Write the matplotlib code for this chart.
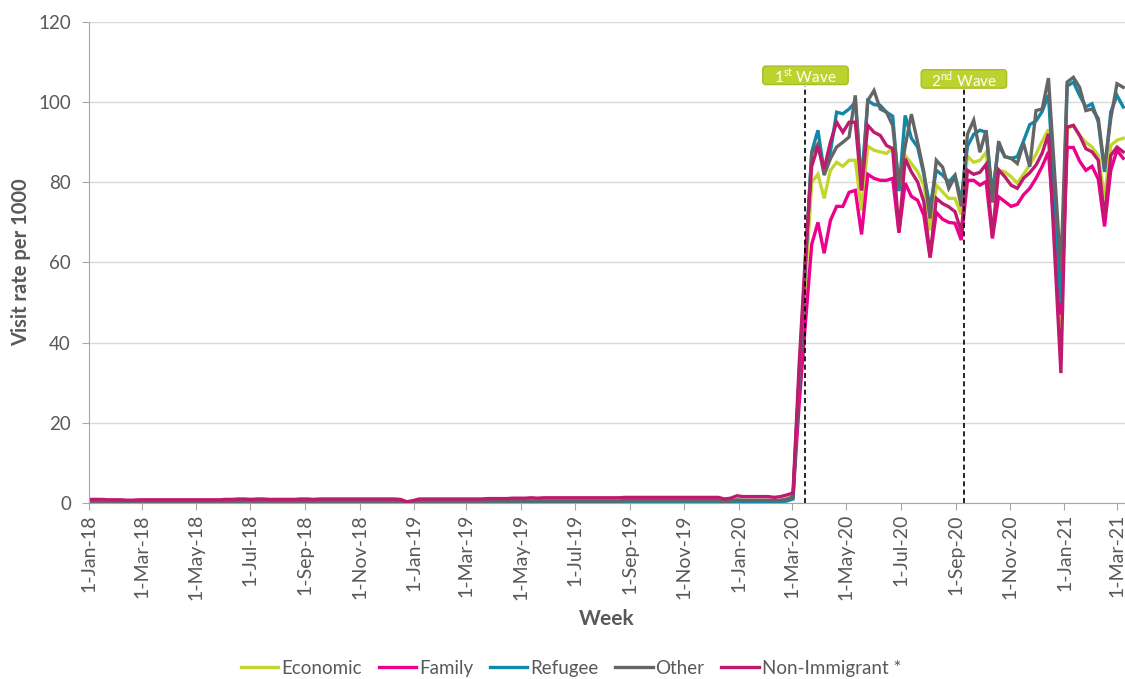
import matplotlib.pyplot as plt
import matplotlib.dates as mdates
from matplotlib.patches import FancyBboxPatch
import pandas as pd

plt.rcParams['font.family'] = ['Lato', 'DejaVu Sans']
plt.rcParams['mathtext.fontset'] = 'custom'
plt.rcParams['mathtext.rm'] = 'Lato'

# Weekly visit rate per 1000, weeks starting 1-Jan-18 (pre-pandemic part)
economic_pre = [
    0.2, 0.2, 0.2, 0.2, 0.2, 0.2, 0.2, 0.2, 0.2, 0.2,
    0.2, 0.2, 0.2, 0.2, 0.2, 0.2, 0.2, 0.2, 0.2, 0.2,
    0.2, 0.2, 0.2, 0.2, 0.3, 0.3, 0.2, 0.2, 0.2, 0.2,
    0.2, 0.2, 0.2, 0.2, 0.2, 0.2, 0.2, 0.2, 0.2, 0.2,
    0.2, 0.2, 0.2, 0.2, 0.2, 0.2, 0.2, 0.2, 0.2, 0.2,
    0.2, 0.1, 0.1, 0.2, 0.2, 0.2, 0.2, 0.2, 0.2, 0.2,
    0.2, 0.2, 0.2, 0.2, 0.2, 0.2, 0.2, 0.3, 0.3, 0.3,
    0.3, 0.3, 0.3, 0.3, 0.3, 0.3, 0.3, 0.3, 0.3, 0.3,
    0.3, 0.3, 0.3, 0.3, 0.3, 0.3, 0.3, 0.3, 0.3, 0.3,
    0.3, 0.3, 0.3, 0.3, 0.3, 0.3, 0.3, 0.3, 0.3, 0.3,
    0.3, 0.3, 0.2, 0.3, 0.5, 0.4, 0.4, 0.4, 0.4, 0.4,
    0.4, 0.4, 0.6]
family_pre = [
    0.3, 0.3, 0.3, 0.3, 0.3, 0.3, 0.3, 0.3, 0.3, 0.3,
    0.3, 0.3, 0.3, 0.3, 0.3, 0.3, 0.3, 0.3, 0.3, 0.3,
    0.3, 0.3, 0.3, 0.3, 0.4, 0.4, 0.3, 0.3, 0.3, 0.3,
    0.3, 0.3, 0.3, 0.3, 0.3, 0.3, 0.3, 0.3, 0.3, 0.3,
    0.3, 0.3, 0.3, 0.3, 0.3, 0.3, 0.3, 0.3, 0.3, 0.3,
    0.3, 0.1, 0.2, 0.3, 0.3, 0.3, 0.3, 0.3, 0.3, 0.3,
    0.3, 0.3, 0.3, 0.3, 0.3, 0.3, 0.3, 0.4, 0.4, 0.4,
    0.4, 0.4, 0.4, 0.4, 0.4, 0.4, 0.4, 0.4, 0.4, 0.4,
    0.4, 0.4, 0.4, 0.4, 0.4, 0.4, 0.4, 0.4, 0.4, 0.4,
    0.4, 0.4, 0.4, 0.4, 0.4, 0.4, 0.4, 0.4, 0.4, 0.4,
    0.4, 0.4, 0.3, 0.4, 0.6, 0.5, 0.5, 0.5, 0.5, 0.5,
    0.5, 0.5, 0.7]
refugee_pre = [
    0.1, 0.1, 0.1, 0.1, 0.1, 0.1, 0.1, 0.1, 0.1, 0.1,
    0.1, 0.1, 0.1, 0.1, 0.1, 0.1, 0.1, 0.1, 0.1, 0.1,
    0.1, 0.1, 0.1, 0.1, 0.2, 0.2, 0.1, 0.1, 0.1, 0.1,
    0.1, 0.1, 0.1, 0.1, 0.1, 0.1, 0.1, 0.1, 0.1, 0.1,
    0.1, 0.1, 0.1, 0.1, 0.1, 0.1, 0.1, 0.1, 0.1, 0.1,
    0.1, 0.1, 0.1, 0.1, 0.1, 0.1, 0.1, 0.1, 0.1, 0.1,
    0.1, 0.1, 0.1, 0.1, 0.1, 0.1, 0.1, 0.2, 0.2, 0.2,
    0.2, 0.2, 0.2, 0.2, 0.2, 0.2, 0.2, 0.2, 0.2, 0.2,
    0.2, 0.2, 0.2, 0.2, 0.2, 0.2, 0.2, 0.2, 0.2, 0.2,
    0.2, 0.2, 0.2, 0.2, 0.2, 0.2, 0.2, 0.2, 0.2, 0.2,
    0.2, 0.2, 0.2, 0.2, 0.4, 0.3, 0.3, 0.3, 0.3, 0.3,
    0.3, 0.3, 0.5]
other_pre = [
    0.4, 0.4, 0.4, 0.4, 0.4, 0.4, 0.4, 0.4, 0.4, 0.4,
    0.4, 0.4, 0.4, 0.4, 0.4, 0.4, 0.4, 0.4, 0.4, 0.4,
    0.4, 0.4, 0.4, 0.4, 0.5, 0.5, 0.4, 0.4, 0.4, 0.4,
    0.4, 0.4, 0.4, 0.4, 0.4, 0.4, 0.4, 0.4, 0.4, 0.4,
    0.4, 0.4, 0.4, 0.4, 0.4, 0.4, 0.4, 0.4, 0.4, 0.4,
    0.4, 0.2, 0.3, 0.4, 0.4, 0.4, 0.4, 0.4, 0.4, 0.4,
    0.4, 0.4, 0.4, 0.4, 0.5, 0.5, 0.5, 0.5, 0.5, 0.5,
    0.5, 0.5, 0.5, 0.5, 0.5, 0.5, 0.5, 0.5, 0.5, 0.5,
    0.5, 0.5, 0.5, 0.5, 0.5, 0.5, 0.6, 0.6, 0.6, 0.6,
    0.6, 0.6, 0.6, 0.6, 0.6, 0.6, 0.6, 0.6, 0.6, 0.6,
    0.6, 0.6, 0.4, 0.5, 0.8, 0.7, 0.7, 0.7, 0.7, 0.7,
    0.6, 0.7, 1.0]
nonimm_pre = [
    0.9, 0.9, 0.9, 0.8, 0.8, 0.8, 0.7, 0.7, 0.8, 0.8,
    0.8, 0.8, 0.8, 0.8, 0.8, 0.8, 0.8, 0.8, 0.8, 0.8,
    0.8, 0.8, 0.9, 0.9, 1.0, 1.0, 0.9, 1.0, 1.0, 0.9,
    0.9, 0.9, 0.9, 0.9, 1.0, 1.0, 0.9, 1.0, 1.0, 1.0,
    1.0, 1.0, 1.0, 1.0, 1.0, 1.0, 1.0, 1.0, 1.0, 1.0,
    0.9, 0.3, 0.6, 1.0, 1.0, 1.0, 1.0, 1.0, 1.0, 1.0,
    1.0, 1.0, 1.0, 1.0, 1.1, 1.1, 1.1, 1.1, 1.2, 1.2,
    1.2, 1.3, 1.2, 1.3, 1.3, 1.3, 1.3, 1.3, 1.3, 1.3,
    1.3, 1.3, 1.3, 1.3, 1.3, 1.3, 1.4, 1.4, 1.4, 1.4,
    1.4, 1.4, 1.4, 1.4, 1.4, 1.4, 1.4, 1.4, 1.4, 1.4,
    1.4, 1.4, 1.0, 1.2, 1.8, 1.6, 1.6, 1.6, 1.6, 1.6,
    1.4, 1.6, 2.0]

# From week of 2-Mar-20 to week of 8-Mar-21
economic_post = [
    2.0, 30, 55, 80, 82, 76, 83, 85, 84, 85.5,
    85.5, 73, 89, 88, 87.6, 87.2, 88.5, 78, 86.7, 84.7,
    82.6, 79.3, 68, 79.3, 77.6, 76, 76, 72, 86.5, 85,
    85.5, 87.5, 75, 83, 82.6, 81.4, 79.8, 82, 84.3, 87,
    90.3, 93.2, 68, 44, 93.4, 94.2, 91.7, 90, 88.8, 86.7,
    76, 89.2, 90.5, 91]
family_post = [
    1.5, 25, 45, 64.5, 70, 62.3, 70.5, 74, 74, 77.5,
    78, 67, 82, 81, 80.5, 80.5, 81, 67.4, 79.8, 76.5,
    75.5, 71.8, 61.2, 72.5, 70.8, 70, 69.8, 65.6, 80.5, 80.5,
    79.3, 80.2, 66, 76.4, 75.2, 74, 74.5, 76.9, 78.5, 81,
    84, 87.6, 67, 47, 88.7, 88.7, 85.3, 83, 84, 80.8,
    69, 83, 88, 86]
refugee_post = [
    1.0, 32, 60, 87.6, 93, 82.6, 87.6, 97.5, 97.1, 98.3,
    100, 80, 100.4, 99.4, 99.2, 97.5, 96.5, 77.8, 96.7, 91,
    88.8, 82, 73.8, 83, 81.8, 80.1, 81.8, 75.5, 89, 92,
    93, 92.5, 77, 89.3, 86.4, 86, 86.4, 90.3, 94.4, 95.3,
    97.7, 101.8, 76, 50, 104, 105, 101.7, 98.8, 99.6, 95,
    82.6, 97.5, 101.7, 98.8]
other_post = [
    1.5, 32, 60, 87.2, 89.6, 81.8, 85.9, 88.8, 90, 91.3,
    101.7, 78, 100.4, 102.9, 98.3, 97.5, 94.2, 79.3, 89, 97,
    90, 82.6, 71, 85.5, 83.8, 78.5, 81.5, 74, 92, 95.5,
    87.5, 93, 75, 90.2, 86.4, 86, 84.7, 89.8, 83.9, 97.9,
    98.3, 106, 82, 58, 105, 106.2, 103.7, 97.9, 98.3, 95.9,
    83.4, 95.9, 104.6, 103.7]
nonimm_post = [
    2.5, 35, 62, 84, 89, 83.4, 90, 95, 92.5, 95,
    95, 78, 94.2, 92.5, 91.7, 89.2, 88.4, 67.7, 85.9, 82.6,
    80.1, 75.1, 61.5, 76, 74.7, 73.9, 72.7, 67.7, 83, 82,
    82.5, 84.5, 66.5, 83.1, 81.4, 79.3, 78.5, 81, 82.4, 84.3,
    87.3, 92.1, 62, 32.4, 93.8, 94.2, 91.7, 88.4, 87.6, 85.5,
    71, 86.7, 88.8, 87.6]

series_names = ['Economic', 'Family', 'Refugee', 'Other', 'Non-Immigrant *']
series_values = [economic_pre + economic_post, family_pre + family_post,
                 refugee_pre + refugee_post, other_pre + other_post,
                 nonimm_pre + nonimm_post]
series_colors = ['#C3D630', '#EC008C', '#1089A8', '#646567', '#BE1A6E']

tick_labels = ['1-Jan-18', '1-Mar-18', '1-May-18', '1-Jul-18', '1-Sep-18', '1-Nov-18',
               '1-Jan-19', '1-Mar-19', '1-May-19', '1-Jul-19', '1-Sep-19', '1-Nov-19',
               '1-Jan-20', '1-Mar-20', '1-May-20', '1-Jul-20', '1-Sep-20', '1-Nov-20',
               '1-Jan-21', '1-Mar-21']
y_ticks = [0, 20, 40, 60, 80, 100, 120]

wave_labels = [r'1$^{\mathrm{st}}$ Wave', r'2$^{\mathrm{nd}}$ Wave']
wave_dates = ['2020-03-16', '2020-09-10']
wave_label_y = [106.7, 105.8]

weeks = pd.date_range('2018-01-01', periods=len(series_values[0]), freq='7D')
tick_dates = pd.to_datetime(tick_labels, format='%d-%b-%y')

text_color = '#595959'
fig = plt.figure(figsize=(11.25, 6.79), dpi=100)
ax = fig.add_axes([89 / 1125, 176 / 679, 1036 / 1125, 481 / 679])

for name, vals, col in zip(series_names, series_values, series_colors):
    ax.plot(weeks, vals, color=col, linewidth=2.4, label=name, solid_joinstyle='miter')

ax.set_xlim(pd.Timestamp('2018-01-01'), pd.Timestamp('2021-03-10'))
ax.set_ylim(0, 120)
ax.set_yticks(y_ticks)
ax.set_xticks(tick_dates)
ax.set_xticklabels(tick_labels, rotation=90)
ax.grid(axis='y', color='#D9D9D9', linewidth=1)
ax.set_axisbelow(True)
for s in ['top', 'right']:
    ax.spines[s].set_visible(False)
for s in ['left', 'bottom']:
    ax.spines[s].set_color('#A6A6A6')
ax.tick_params(axis='y', colors='#A6A6A6', labelcolor=text_color, labelsize=13.5, length=5, pad=8)
ax.tick_params(axis='x', colors='#A6A6A6', labelcolor=text_color, labelsize=14, length=5, pad=3)

ax.set_ylabel('Visit rate per 1000', fontsize=14.5, fontweight='bold', color=text_color)
ax.yaxis.set_label_coords(-0.056, 0.5)
ax.set_xlabel('Week', fontsize=15, fontweight='bold', color=text_color, labelpad=6)

# wave markers: dashed line plus green label box
for lab, d, yl in zip(wave_labels, wave_dates, wave_label_y):
    xd = mdates.date2num(pd.Timestamp(d))
    ax.plot([xd, xd], [0, yl - 2.6], color='black', linestyle=(0, (3, 2)), linewidth=1.2,
            clip_on=False)
    w, h = 96, 4.6
    box = FancyBboxPatch((xd - w / 2, yl - h / 2), w, h,
                         boxstyle='round,pad=0,rounding_size=3.5', mutation_aspect=0.22,
                         facecolor='#BCD22E', edgecolor='#A9BD27', linewidth=1, clip_on=False)
    ax.add_patch(box)
    ax.text(xd, yl - 0.2, lab, color='white', fontsize=11, ha='center', va='center')

fig.legend(loc='center', bbox_to_anchor=(0.5076, 0.016), ncol=5, frameon=False,
           fontsize=13.5, handlelength=2.0, handletextpad=0.15, columnspacing=0.9,
           labelcolor=text_color)

fig.savefig('out.png', dpi=100)
